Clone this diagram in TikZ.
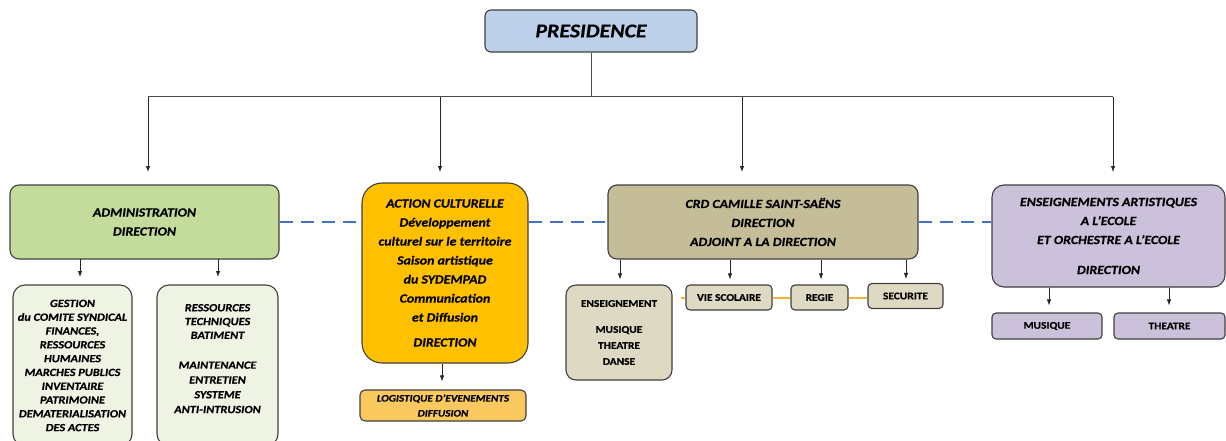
\documentclass[tikz,border=0pt]{standalone}
\usepackage{fontspec}
\setmainfont{Carlito}[FakeStretch=1.12, BoldFeatures={FakeBold=0.5}, BoldItalicFeatures={FakeBold=0.5}]
\usetikzlibrary{arrows.meta,calc}
\definecolor{presblue}{HTML}{BCD0EA}
\definecolor{admgreen}{HTML}{C3DC9B}
\definecolor{subgreen}{HTML}{EEF3E4}
\definecolor{actorange}{HTML}{FFC000}
\definecolor{logorange}{HTML}{F9C85E}
\definecolor{crdkhaki}{HTML}{C4BD97}
\definecolor{subkhaki}{HTML}{DDD9C3}
\definecolor{purp}{HTML}{CCC1DA}
\definecolor{dashblue}{HTML}{4472C4}
\definecolor{linkorange}{HTML}{F2B233}
\definecolor{edge}{HTML}{404040}
\tikzset{
  box/.style={draw=edge, line width=1.1pt, rounded corners=9pt, align=center, inner sep=2pt, anchor=center},
  bigtxt/.style={font=\fontsize{12.4}{19}\selectfont\bfseries\itshape},
  smalltxt/.style={font=\fontsize{11}{13.8}\selectfont\bfseries\itshape},
  uptxt/.style={font=\fontsize{10.2}{16}\selectfont\bfseries},
  arr/.style={draw=black!85, line width=0.8pt, -{Latex[length=6pt,width=4.5pt]}},
  bus/.style={draw=black!70, line width=1pt},
  dashlink/.style={draw=dashblue, line width=2pt, dash pattern=on 13pt off 8pt},
  orlink/.style={draw=linkorange, line width=2pt}
}
\begin{document}
\begin{tikzpicture}[x=1pt,y=-1pt]
\clip (0,0) rectangle (1226,441);
\fill[white] (0,0) rectangle (1226,441);

% top
\node[box, fill=presblue, rounded corners=6pt, minimum width=212pt, minimum height=42pt,
      font=\fontsize{19.5}{22}\selectfont\bfseries\itshape] (pres) at (591,31) {PRESIDENCE};

% level 1
\node[box, bigtxt, fill=admgreen, minimum width=269pt, minimum height=74pt] (adm) at (144.5,222) {ADMINISTRATION\\DIRECTION};
\node[box, bigtxt, fill=actorange, rounded corners=20pt, minimum width=166pt, minimum height=180pt] (act) at (445,273)
  {ACTION CULTURELLE\\Développement\\culturel sur le territoire\\Saison artistique\\du SYDEMPAD\\Communication\\et Diffusion\\[6pt]DIRECTION};
\node[box, bigtxt, fill=crdkhaki, minimum width=310pt, minimum height=74pt] (crd) at (763,222)
  {CRD CAMILLE SAINT-SAËNS\\DIRECTION\\ADJOINT A LA DIRECTION};
\node[box, bigtxt, fill=purp, rounded corners=12pt, minimum width=233pt, minimum height=102pt] (pur) at (1108.5,236)
  {ENSEIGNEMENTS ARTISTIQUES\\A L’ECOLE\\ET ORCHESTRE A L’ECOLE\\[11pt]DIRECTION};

% bus
\coordinate (hub) at (591,97);
\coordinate (b1) at (148,97);
\coordinate (b2) at (440,97);
\coordinate (b3) at (742,97);
\coordinate (b4) at (1113,97);
\coordinate (t1) at (148,172);
\coordinate (t2) at (440,172);
\coordinate (t3) at (742,172);
\coordinate (t4) at (1113,172);
\draw[bus] (pres.south) -- (hub);
\draw[bus] (b1) -- (b4);
\draw[arr] (b1) -- (t1);
\draw[arr] (b2) -- (t2);
\draw[arr] (b3) -- (t3);
\draw[arr] (b4) -- (t4);

% dashed links
\draw[dashlink] (adm.east) -- (adm.east -| act.west);
\draw[dashlink] (act.east |- crd.west) -- (crd.west);
\draw[dashlink] (crd.east) -- (crd.east -| pur.west);

% admin subs
\node[box, smalltxt, fill=subgreen, rounded corners=12pt, minimum width=119pt, minimum height=161pt] (g1) at (72.5,365.5)
  {GESTION\\du COMITE SYNDICAL\\FINANCES,\\RESSOURCES\\HUMAINES\\MARCHES PUBLICS\\INVENTAIRE\\PATRIMOINE\\DEMATERIALISATION\\DES ACTES};
\node[box, smalltxt, fill=subgreen, rounded corners=12pt, minimum width=121pt, minimum height=161pt] (g2) at (217.5,365.5)
  {RESSOURCES\\TECHNIQUES\\BATIMENT\\[16pt]MAINTENANCE\\[1pt]ENTRETIEN\\[1pt]SYSTEME\\[1pt]ANTI-INTRUSION\\~};
\coordinate (a1) at (80,259);
\coordinate (a2) at (218,259);
\draw[arr] (a1) -- (80,277);
\draw[arr] (a2) -- (218,277);

% action sub
\node[box, font=\fontsize{10}{15}\selectfont\bfseries\itshape, fill=logorange, rounded corners=5pt, minimum width=166pt, minimum height=31pt] (log) at (443,405.5)
  {LOGISTIQUE D’EVENEMENTS\\DIFFUSION};
\draw[arr] (act.south -| 442,0) -- ($(log.north -| 442,0)+(0,-8)$);

% crd subs
\node[box, uptxt, fill=subkhaki, rounded corners=10pt, minimum width=106pt, minimum height=95pt] (ens) at (619,332.5)
  {ENSEIGNEMENT\\[10pt]MUSIQUE\\THEATRE\\DANSE};
\node[box, uptxt, fill=subkhaki, rounded corners=4pt, minimum width=86pt, minimum height=25pt] (vie) at (729,297.5) {VIE SCOLAIRE};
\node[box, uptxt, fill=subkhaki, rounded corners=4pt, minimum width=57pt, minimum height=25pt] (reg) at (819.5,297.5) {REGIE};
\node[box, uptxt, fill=subkhaki, rounded corners=4pt, minimum width=75pt, minimum height=25pt] (sec) at (905.5,296) {SECURITE};
\draw[arr] (crd.south -| 620,0) -- ($(ens.north -| 620,0)+(0,-5)$);
\draw[arr] (crd.south -| 730,0) -- ($(vie.north -| 730,0)+(0,-5)$);
\draw[arr] (crd.south -| 821,0) -- ($(reg.north -| 821,0)+(0,-5)$);
\draw[arr] (crd.south -| 906,0) -- ($(sec.north -| 906,0)+(0,-4)$);
\draw[orlink] ($(ens.east |- vie.west)+(8,0)$) -- (vie.west);
\draw[orlink] (vie.east) -- (reg.west);
\draw[orlink] (reg.east) -- (sec.west |- reg.east);

% purple subs
\node[box, uptxt, fill=purp, rounded corners=4pt, minimum width=110pt, minimum height=26pt] (mus) at (1047,326) {MUSIQUE};
\node[box, uptxt, fill=purp, rounded corners=4pt, minimum width=111pt, minimum height=26pt] (the) at (1169.5,326) {THEATRE};
\draw[arr] (pur.south -| 1049,0) -- ($(mus.north -| 1049,0)+(0,-7)$);
\draw[arr] (pur.south -| 1169,0) -- ($(the.north -| 1169,0)+(0,-7)$);
\end{tikzpicture}
\end{document}
